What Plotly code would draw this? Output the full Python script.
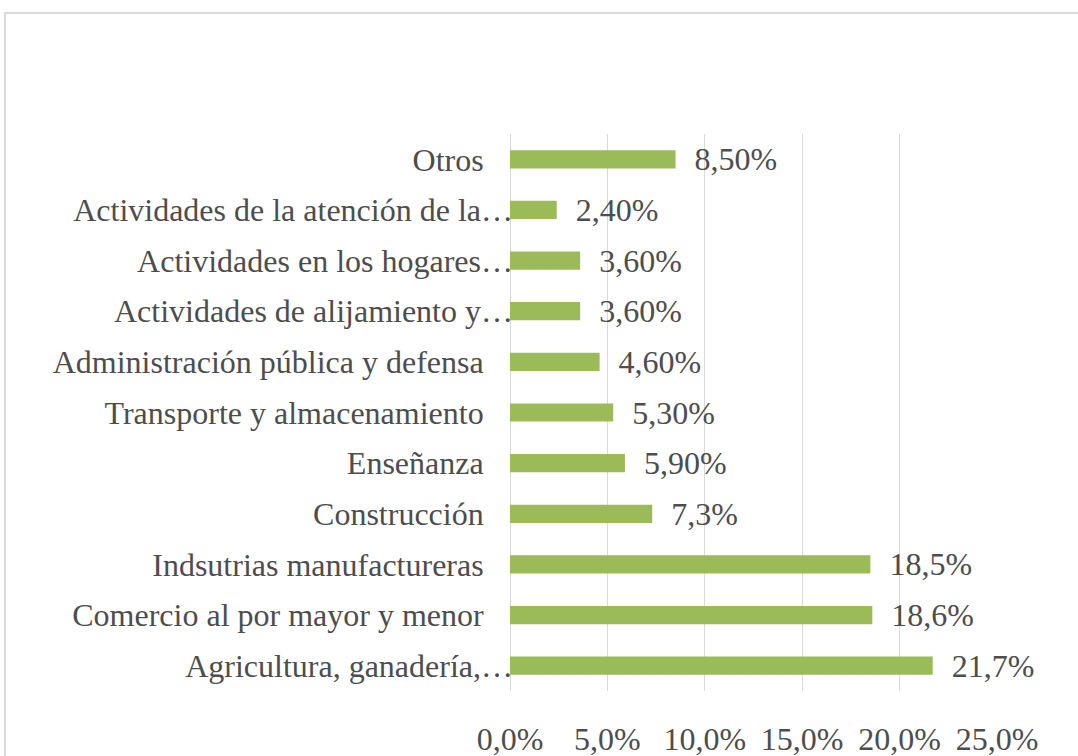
import plotly.graph_objects as go

categories = [
    "Otros",
    "Actividades de la atención de la…",
    "Actividades en los hogares…",
    "Actividades de alijamiento y…",
    "Administración pública y defensa",
    "Transporte y almacenamiento",
    "Enseñanza",
    "Construcción",
    "Indsutrias manufactureras",
    "Comercio al por mayor y menor",
    "Agricultura, ganadería,…",
]
values = [8.5, 2.4, 3.6, 3.6, 4.6, 5.3, 5.9, 7.3, 18.5, 18.6, 21.7]
value_labels = ["8,50%", "2,40%", "3,60%", "3,60%", "4,60%", "5,30%",
                "5,90%", "7,3%", "18,5%", "18,6%", "21,7%"]
x_ticks = [0, 5, 10, 15, 20, 25]
x_tick_labels = ["0,0%", "5,0%", "10,0%", "15,0%", "20,0%", "25,0%"]

FONT = '"Liberation Serif", "Times New Roman", serif'
TXT = "#4d4d4d"
FS = 32

# full labels end before the axis; truncated ones run up to it (ellipsis)
pad = "\u2002\u2005\u2006"
tick_text = [c if c.endswith("…") else c + pad for c in categories]

fig = go.Figure(go.Bar(
    y=categories, x=values, orientation="h",
    marker=dict(color="#9BBB59", line=dict(width=0)),
    text=value_labels, texttemplate="\u2002%{text}",
    textposition="outside", constraintext="none", cliponaxis=False,
    textfont=dict(family=FONT, size=FS, color=TXT),
    hoverinfo="skip",
))

W, H = 1078, 756
L, R, T, B = 510, 81, 134, 65
pw, ph = W - L - R, H - T - B

fig.update_layout(
    width=W, height=H,
    margin=dict(l=L, r=R, t=T, b=B),
    paper_bgcolor="white", plot_bgcolor="white",
    bargap=0.64,
    showlegend=False,
    font=dict(family=FONT, size=FS, color=TXT),
    xaxis=dict(
        range=[0, 25], tickvals=x_ticks, ticktext=x_tick_labels,
        showgrid=True, gridcolor="#d9d9d9", gridwidth=1,
        zeroline=True, zerolinecolor="#d9d9d9", zerolinewidth=1,
        showline=False, ticks="",
        ticklabelstandoff=26, automargin=False,
        tickfont=dict(family=FONT, size=FS, color=TXT),
    ),
    yaxis=dict(
        autorange="reversed", tickvals=categories, ticktext=tick_text,
        showgrid=False, zeroline=False, showline=False, ticks="",
        ticklabelstandoff=-4, automargin=False,
        tickfont=dict(family=FONT, size=FS, color=TXT),
    ),
    shapes=[dict(
        type="rect", xref="paper", yref="paper", layer="below",
        x0=(5 - L) / pw, x1=(W + 20 - L) / pw,
        y0=-(B + 20) / ph, y1=(H - B - 13) / ph,
        line=dict(color="#d9d9d9", width=2), fillcolor="rgba(0,0,0,0)",
    )],
)

fig.write_html(
    "out.html",
    config={"displayModeBar": False},
    post_script="document.body.style.margin='0';document.body.style.overflow='hidden';",
)
